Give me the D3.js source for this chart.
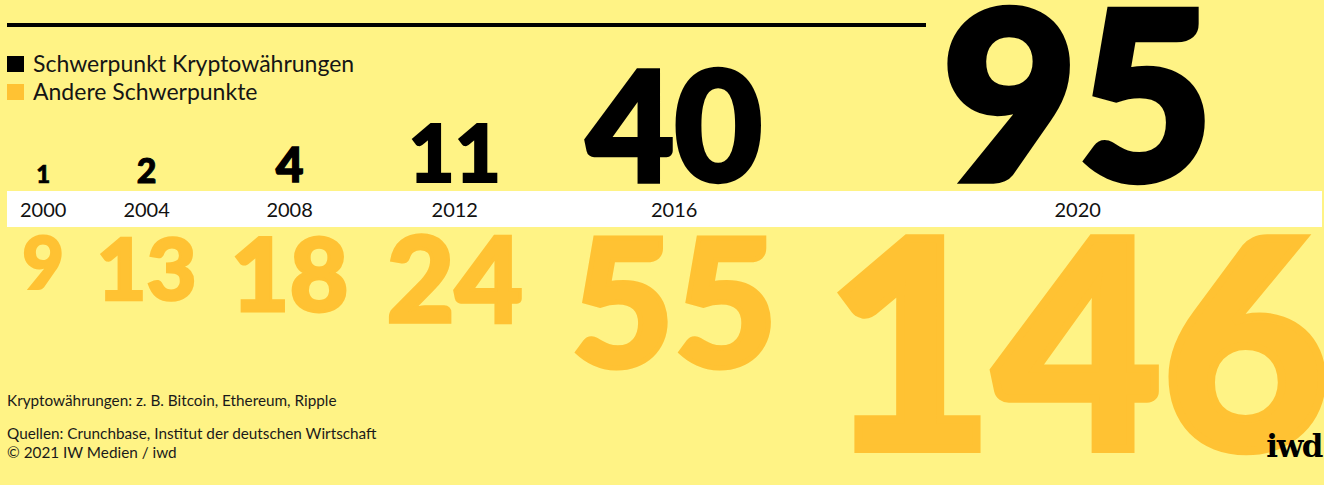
<!DOCTYPE html>
<html>
<head>
<meta charset="utf-8">
<script src="https://cdn.jsdelivr.net/npm/d3@7"></script>
<style>
  body { margin: 0; background: #fff385; }
  svg { display: block; }
</style>
</head>
<body>
<svg width="1324" height="485"></svg>
<script>
var years = [2000, 2004, 2008, 2012, 2016, 2020];
var cryptoCount = [1, 2, 4, 11, 40, 95];
var otherCount = [9, 13, 18, 24, 55, 146];
var legendLabels = ["Schwerpunkt Kryptowährungen", "Andere Schwerpunkte"];
var notes = ["Kryptowährungen: z. B. Bitcoin, Ethereum, Ripple"];
var sources = ["Quellen: Crunchbase, Institut der deutschen Wirtschaft", "© 2021 IW Medien / iwd"];

var svg = d3.select("svg"),
    width = +svg.attr("width"),
    height = +svg.attr("height");

var yellow = "#fff385", orange = "#ffc233", ink = "#000";
var numFont = "Lato, 'Open Sans', sans-serif";
var textFont = "Lato, 'Noto Sans', sans-serif";

// font size grows with the square root of the value (area-like)
var size = d3.scaleSqrt().domain([0, 100]).range([0, 240]);
var capRatio = 0.72;
// extra stroke to get a "black" weight
var heavy = function (v) { return size(v) * 0.028; };
var digitH = function (v) { return size(v) * capRatio + heavy(v); };

svg.append("rect").attr("width", width).attr("height", height).attr("fill", yellow);

// top rule
svg.append("line")
    .attr("x1", 7).attr("x2", 926)
    .attr("y1", 25).attr("y2", 25)
    .attr("stroke", ink).attr("stroke-width", 4);

// legend
var color = d3.scaleOrdinal().domain(legendLabels).range([ink, orange]);
var legend = svg.append("g").attr("transform", "translate(7,56)");
legendLabels.forEach(function (d, i) {
    var row = legend.append("g").attr("transform", "translate(0," + (i * 28) + ")");
    row.append("rect").attr("width", 17).attr("height", 16).attr("fill", color(d));
    row.append("text")
        .attr("x", 26).attr("y", 16)
        .attr("font-family", textFont).attr("font-size", 23)
        .attr("fill", "#151515")
        .text(d);
});

// white year band
var bandTop = 191, bandH = 36;
svg.append("rect")
    .attr("x", 7).attr("y", bandTop)
    .attr("width", 1315).attr("height", bandH)
    .attr("fill", "#fff");

var data = years.map(function (y, i) {
    return { year: y, crypto: cryptoCount[i], other: otherCount[i] };
});

var cols = svg.selectAll(".col")
    .data(data)
    .enter().append("g")
    .attr("class", "col");

var otherTop = bandTop + bandH + 9;
cols.append("text")
    .attr("class", "other")
    .attr("text-anchor", "middle")
    .attr("y", function (d) { return otherTop + size(d.other) * capRatio + heavy(d.other) / 2; })
    .attr("font-family", numFont).attr("font-weight", 900)
    .attr("font-size", function (d) { return size(d.other); })
    .attr("fill", orange)
    .attr("stroke", orange)
    .attr("stroke-width", function (d) { return heavy(d.other); })
    .text(function (d) { return d.other; });

var cryptoBase = 183;
cols.append("text")
    .attr("class", "crypto")
    .attr("text-anchor", "middle")
    .attr("y", function (d) { return cryptoBase - heavy(d.crypto) / 2; })
    .attr("font-family", numFont).attr("font-weight", 900)
    .attr("font-size", function (d) { return size(d.crypto); })
    .attr("fill", ink)
    .attr("stroke", ink)
    .attr("stroke-width", function (d) { return heavy(d.crypto); })
    .text(function (d) { return d.crypto; });

cols.append("text")
    .attr("class", "year")
    .attr("text-anchor", "middle")
    .attr("y", 217)
    .attr("font-family", textFont).attr("font-size", 20)
    .attr("fill", "#111")
    .text(function (d) { return d.year; });

// lay the columns out side by side by their measured width,
// the gap widening a little with the size of the numbers
var gap = d3.scaleLinear().domain([60, 110]).range([30, 48]).clamp(true);
var x = 20, prev = null;
cols.each(function (d) {
    var w = 0;
    d3.select(this).selectAll("text").each(function () {
        w = Math.max(w, this.getBBox().width);
    });
    d.w = w;
    d.h = digitH(d.other);
    if (prev) x += prev.w / 2 + gap((prev.h + d.h) / 2) + w / 2;
    else x += w / 2;
    d.cx = x;
    prev = d;
});
cols.attr("transform", function (d) { return "translate(" + d.cx + ",0)"; });

// notes
svg.append("g").selectAll("text")
    .data(notes)
    .enter().append("text")
    .attr("x", 7).attr("y", 406)
    .attr("font-family", textFont).attr("font-size", 15.3)
    .attr("fill", "#1a1a1a")
    .text(function (d) { return d; });

svg.append("g").selectAll("text")
    .data(sources)
    .enter().append("text")
    .attr("x", 7).attr("y", function (d, i) { return 439 + i * 19; })
    .attr("font-family", textFont).attr("font-size", 15.3)
    .attr("fill", "#1a1a1a")
    .text(function (d) { return d; });

// logo
svg.append("text")
    .attr("x", 1322).attr("y", 457)
    .attr("text-anchor", "end")
    .attr("font-family", "'DejaVu Serif', serif").attr("font-weight", "bold")
    .attr("font-size", 31).attr("letter-spacing", -1.5)
    .attr("fill", ink)
    .text("iwd");
</script>
</body>
</html>
